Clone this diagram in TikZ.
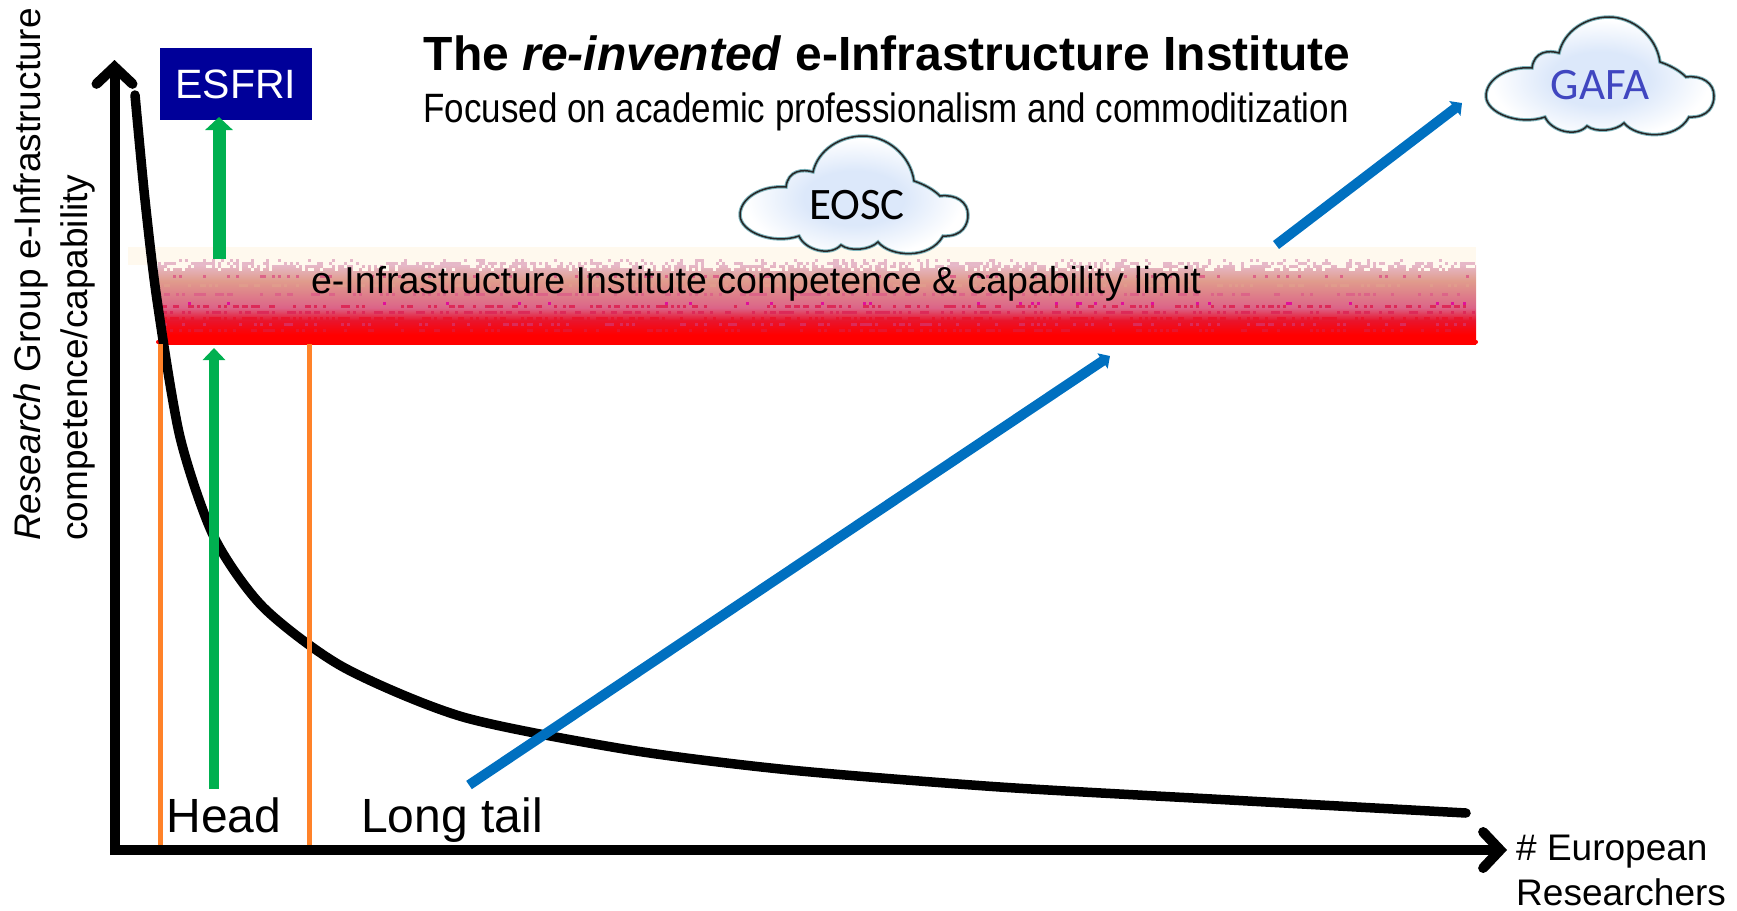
\documentclass[tikz,border=0pt]{standalone}
\usepackage{fontspec}
\setmainfont{Liberation Sans}
\newfontfamily\cloudfont{Carlito}
\usepackage{xcolor}
\usepackage{tikz}
\usetikzlibrary{arrows.meta}
\definecolor{esfri_blue}{HTML}{000099}
\definecolor{tail_orange}{HTML}{FF8229}
\definecolor{up_green}{HTML}{00B050}
\definecolor{grow_blue}{HTML}{0070C0}
\definecolor{cloud_fill}{HTML}{DCE8FA}
\definecolor{cloud_rim}{HTML}{7FB5BD}
\definecolor{gafa_blue}{HTML}{4046C0}
\definecolor{band_cream}{HTML}{FFF9EE}
\definecolor{band_lilac}{HTML}{E6B8C8}
\definecolor{band_tan}{HTML}{E09C8C}
\definecolor{band_pink}{HTML}{DC6488}
\definecolor{band_rose}{HTML}{DC2A58}
\definecolor{band_fleck}{HTML}{E0109A}
\definecolor{band_red}{HTML}{E8142C}
\pgfdeclareverticalshading{limit_shade}{100bp}{
    color(0bp)=(red);
    color(25bp)=(red);
    color(31bp)=(red);
    color(40bp)=(band_red);
    color(48bp)=(band_pink);
    color(65bp)=(band_tan);
    color(75bp)=(band_lilac);
    color(100bp)=(band_lilac)
}
\pgfdeclareradialshading{cloud_shade}{\pgfpoint{0bp}{0bp}}{
    color(0bp)=(cloud_fill);
    color(11bp)=(cloud_fill);
    color(24bp)=(white);
    color(50bp)=(white)
}
\tikzset{
    txt/.style = {align=center, inner sep=0pt, text centered},
    axis/.style = {draw=black, line width=10pt, -{Straight Barb[length=17pt,width=36pt,line cap=round]}},
    limit/.style = {draw=tail_orange, line width=5.5pt},
    up_arrow/.style = {draw=up_green, -{Triangle[length=13pt,width=27pt]}},
    grow_arrow/.style = {draw=grow_blue, line width=10pt, -{Triangle[length=9pt,width=18pt]}},
    cloud_path/.pic = {
        \path[pic actions] (-68,-70) .. controls (-94,-72) and (-114,-58) .. (-114,-42)
            .. controls (-114,-25) and (-81,-12) .. (-55,-21)
            .. controls (-49,-7) and (-24,0) .. (-13,-12)
            .. controls (-4,-5) and (16,-7) .. (24,-15)
            .. controls (36,0) and (76,3) .. (89,-21)
            .. controls (109,-20) and (114,-33) .. (114,-42)
            .. controls (114,-55) and (102,-63) .. (86,-61)
            .. controls (79,-68) and (69,-73) .. (60,-76)
            .. controls (56,-103) and (32,-121) .. (9,-121)
            .. controls (-14,-121) and (-36,-107) .. (-41,-85)
            .. controls (-51,-88) and (-66,-87) .. (-68,-70) -- cycle;
    }
}
\begin{document}
\begin{tikzpicture}[x=1pt, y=-1pt]
    \useasboundingbox (0,0) rectangle (1737,910);

    % band
    \pgfmathsetseed{7}
    \fill[band_cream] (128,247) rectangle (1476,265);
    \shade[shading=limit_shade] (158,265) rectangle (1476,344);
    \foreach \y/\c/\p in {259/band_lilac/15, 262/band_lilac/45, 265/band_cream/45, 268/band_cream/25,
        275/band_pink/20, 284/band_tan/35, 293/band_pink/35, 302/band_fleck/10, 305/band_rose/35,
        311/band_rose/45, 317/band_red/50, 323/band_rose/25, 329/band_red/30} {
        \foreach \x in {158,161,...,1473} {
            \pgfmathrandominteger{\r}{0}{99}
            \ifnum\r<\p \fill[\c] (\x,\y) rectangle ++(3,3); \fi
        }
    }
    \draw[red, line width=4pt, line cap=round] (158,342) -- (1476,342);

    % coordinates
    \coordinate (origin) at (114.5,850);
    \coordinate (ybase) at (114.5,855);
    \coordinate (ytip) at (114.5,60);
    \coordinate (xtip) at (1507,850);
    \coordinate (head_a) at (160.7,344);
    \coordinate (head_a_b) at (160.7,846);
    \coordinate (head_b) at (309.7,344);
    \coordinate (head_b_b) at (309.7,846);

    % long tail
    \draw[line width=9.5pt, black, line cap=round] plot[smooth, tension=0.45] coordinates {
        (135,95) (145,200) (157,300) (180,437) (214,537) (263,607) (343,667) (463,717)
        (630,750) (790,770) (1000,787) (1230,800) (1466,813)};

    \draw[limit] (head_a) -- (head_a_b);
    \draw[limit] (head_b) -- (head_b_b);

    \draw[axis] (ybase) -- (ytip);
    \draw[axis] (origin) -- (xtip);

    % text
    \node[txt, font=\fontsize{48}{52}\selectfont\bfseries] (title) at (887,53) {The \textit{re-invented} e-Infrastructure Institute};
    \node[txt, font=\fontsize{41}{45}\selectfont, xscale=0.853] (subtitle) at (886,112) {Focused on academic professionalism and commoditization};
    \node[txt, font=\fontsize{37.5}{40}\selectfont] (limit_label) at (756,284) {e-Infrastructure Institute competence \& capability limit};
    \node[txt, fill=esfri_blue, text=white, minimum width=152pt, minimum height=72pt, font=\fontsize{41}{44}\selectfont] (esfri) at (236,84) {ESFRI};
    \node[txt, anchor=base, font=\fontsize{48}{50}\selectfont] (head) at (224,832) {Head};
    \node[txt, anchor=base, font=\fontsize{48}{50}\selectfont] (tail) at (452,832) {Long tail};
    \node[txt, rotate=90, anchor=south west, font=\fontsize{37}{44}\selectfont] (ylab_a) at (48,541) {\textit{Research} Group e-Infrastructure};
    \node[txt, rotate=90, anchor=south west, font=\fontsize{37}{44}\selectfont] (ylab_b) at (95,541) {competence/capability};
    \node[txt, anchor=west, align=left, font=\fontsize{37}{45}\selectfont] (xlab) at (1516,870) {\# European\\Researchers};

    % clouds
    \pic[draw=cloud_rim, line width=3.5pt, shading=cloud_shade] at (854,257) {cloud_path};
    \pic[draw=black!85, line width=1.5pt] at (854,257) {cloud_path};
    \node[txt, font=\fontsize{45}{48}\cloudfont\selectfont] (eosc) at (857,205) {EOSC};
    \pic[draw=cloud_rim, line width=3.5pt, shading=cloud_shade] at (1600,138) {cloud_path};
    \pic[draw=black!85, line width=1.5pt] at (1600,138) {cloud_path};
    \node[txt, text=gafa_blue, font=\fontsize{45}{48}\cloudfont\selectfont] (gafa) at (1600,85) {GAFA};

    % arrows
    \coordinate (up_a) at (219,259);
    \coordinate (up_a_tip) at (219,117);
    \coordinate (up_b) at (214,789);
    \coordinate (up_b_tip) at (214,348);
    \coordinate (grow_a) at (469,785);
    \coordinate (grow_a_tip) at (1110,356);
    \coordinate (grow_b) at (1276,245);
    \coordinate (grow_b_tip) at (1462,103);
    \draw[up_arrow, line width=13pt] (up_a) -- (up_a_tip);
    \draw[up_arrow, line width=10pt, -{Triangle[length=12pt,width=22pt]}] (up_b) -- (up_b_tip);
    \draw[grow_arrow] (grow_a) -- (grow_a_tip);
    \draw[grow_arrow] (grow_b) -- (grow_b_tip);
\end{tikzpicture}
\end{document}
